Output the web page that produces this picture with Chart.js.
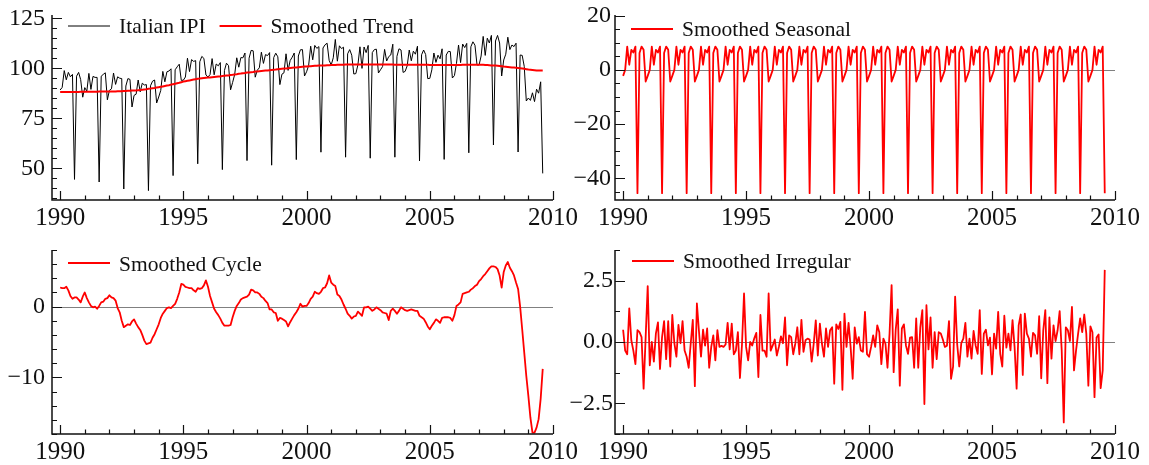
<!DOCTYPE html>
<html>
<head>
<meta charset="utf-8">
<title>Italian IPI decomposition</title>
<script src="https://cdn.jsdelivr.net/npm/chart.js@4.4.1/dist/chart.umd.min.js"></script>
<style>
  html, body { margin: 0; padding: 0; background: #fff; }
  #wrap { position: relative; width: 1149px; height: 465px; overflow: hidden; }
  #wrap canvas { position: absolute; }
</style>
</head>
<body>
<div id="wrap">
  <canvas id="pIpi" width="590" height="232" style="left:0;top:0"></canvas>
  <canvas id="pSeas" width="589" height="232" style="left:560px;top:0"></canvas>
  <canvas id="pCycle" width="590" height="233" style="left:0;top:232px"></canvas>
  <canvas id="pIrr" width="589" height="233" style="left:560px;top:232px"></canvas>
</div>
<script>
// monthly data, Jan 1990 .. Aug 2009
const startYear = 1990;
const yearTicks = [1990, 1995, 2000, 2005, 2010];

const ipi = [
  89.2, 90.5, 98.9, 94.3, 98.0, 95.8, 97.0, 44.5, 96.1, 98.0, 94.4, 85.6,
  90.4, 88.6, 97.5, 89.5, 96.0, 95.5, 95.5, 43.2, 96.1, 97.0, 97.8, 84.3,
  89.0, 89.8, 97.7, 92.0, 95.8, 95.1, 94.9, 39.7, 91.2, 94.9, 94.5, 80.7,
  86.5, 87.1, 94.2, 88.3, 92.6, 91.7, 91.9, 38.9, 91.3, 93.6, 94.2, 82.7,
  85.7, 89.0, 98.5, 93.3, 98.3, 98.7, 99.8, 46.4, 99.3, 100.8, 102.1, 94.0,
  94.1, 95.7, 105.1, 98.4, 104.4, 103.5, 103.9, 52.3, 103.3, 106.0, 105.0, 96.7,
  95.7, 96.9, 104.9, 96.8, 102.2, 101.3, 102.9, 49.4, 98.9, 102.6, 101.4, 89.3,
  93.0, 97.0, 105.3, 100.6, 105.4, 105.3, 107.7, 53.9, 105.1, 109.0, 108.8, 95.6,
  99.1, 100.3, 108.1, 102.5, 106.9, 106.4, 107.9, 51.6, 105.4, 107.6, 105.8, 91.9,
  97.1, 97.8, 107.3, 99.0, 103.9, 105.6, 107.7, 54.4, 106.2, 109.3, 109.4, 96.2,
  98.3, 101.4, 111.1, 104.3, 111.5, 110.0, 110.9, 58.1, 110.2, 111.8, 112.6, 104.0,
  101.7, 105.3, 114.5, 103.6, 111.3, 109.9, 110.6, 55.6, 107.3, 109.4, 106.6, 97.2,
  97.4, 101.8, 110.8, 100.0, 110.7, 107.9, 111.5, 55.1, 107.9, 109.4, 109.6, 97.7,
  99.3, 100.9, 109.5, 103.7, 105.9, 106.7, 112.1, 55.6, 106.0, 109.8, 109.2, 98.0,
  98.5, 101.3, 109.2, 103.8, 108.6, 107.1, 111.1, 53.7, 106.8, 109.2, 106.9, 94.9,
  95.0, 99.3, 107.7, 103.0, 106.6, 104.8, 109.8, 54.5, 106.7, 108.5, 108.4, 95.2,
  96.4, 102.5, 111.7, 102.9, 112.2, 110.4, 112.5, 57.8, 110.8, 113.3, 111.6, 101.7,
  101.7, 106.2, 116.0, 106.5, 115.1, 112.7, 116.5, 61.7, 113.7, 116.5, 112.7, 96.2,
  104.2, 107.1, 115.6, 109.4, 111.7, 110.9, 112.6, 58.2, 106.7, 106.5, 101.0, 83.7,
  85.2, 84.0, 87.8, 83.4, 89.6, 87.6, 93.3, 47.5
];

const trend = [
  88.2, 88.2, 88.2, 88.2, 88.2, 88.2, 88.2, 88.2, 88.2, 88.2, 88.3, 88.3,
  88.3, 88.3, 88.3, 88.3, 88.3, 88.3, 88.3, 88.4, 88.4, 88.4, 88.4, 88.4,
  88.5, 88.5, 88.5, 88.5, 88.6, 88.6, 88.6, 88.7, 88.7, 88.8, 88.8, 88.9,
  88.9, 89.0, 89.1, 89.2, 89.3, 89.5, 89.6, 89.8, 89.9, 90.1, 90.2, 90.4,
  90.6, 90.8, 91.0, 91.2, 91.4, 91.6, 91.9, 92.1, 92.3, 92.6, 92.8, 93.1,
  93.4, 93.6, 93.8, 94.0, 94.2, 94.4, 94.6, 94.8, 94.9, 95.1, 95.2, 95.3,
  95.4, 95.5, 95.6, 95.7, 95.8, 95.9, 96.0, 96.2, 96.3, 96.4, 96.5, 96.7,
  96.8, 97.0, 97.1, 97.3, 97.4, 97.6, 97.7, 97.9, 98.0, 98.1, 98.2, 98.4,
  98.5, 98.6, 98.7, 98.8, 98.9, 99.0, 99.1, 99.2, 99.3, 99.4, 99.6, 99.7,
  99.8, 99.9, 100.0, 100.1, 100.2, 100.3, 100.4, 100.5, 100.6, 100.7, 100.8, 100.9,
  101.0, 101.1, 101.1, 101.2, 101.3, 101.3, 101.4, 101.4, 101.5, 101.5, 101.6, 101.6,
  101.7, 101.7, 101.7, 101.8, 101.8, 101.8, 101.8, 101.9, 101.9, 101.9, 101.9, 101.9,
  101.9, 101.9, 101.9, 101.9, 101.9, 101.9, 101.9, 101.9, 101.9, 101.9, 101.9, 101.9,
  101.9, 101.9, 101.9, 101.9, 101.9, 101.9, 101.9, 101.8, 101.8, 101.8, 101.8, 101.8,
  101.8, 101.8, 101.8, 101.8, 101.8, 101.8, 101.8, 101.8, 101.8, 101.8, 101.8, 101.8,
  101.7, 101.7, 101.7, 101.7, 101.7, 101.7, 101.7, 101.7, 101.7, 101.7, 101.7, 101.7,
  101.7, 101.7, 101.7, 101.7, 101.8, 101.8, 101.8, 101.8, 101.8, 101.8, 101.8, 101.8,
  101.8, 101.8, 101.8, 101.7, 101.7, 101.6, 101.5, 101.5, 101.4, 101.3, 101.2, 101.1,
  100.9, 100.8, 100.7, 100.6, 100.5, 100.4, 100.3, 100.2, 100.1, 100.0, 99.8, 99.6,
  99.4, 99.3, 99.2, 99.1, 99.0, 99.0, 98.9, 98.9
];

const seasonal = [
  -2.2, 0.0, 8.6, 1.9, 7.4, 6.4, 8.6, -45.5, 6.2, 8.6, 7.4, -4.3,
  -2.2, 0.0, 8.6, 1.9, 7.4, 6.4, 8.6, -45.5, 6.2, 8.6, 7.4, -4.3,
  -2.2, 0.0, 8.6, 1.9, 7.4, 6.4, 8.6, -45.5, 6.2, 8.6, 7.4, -4.3,
  -2.2, 0.0, 8.6, 1.9, 7.4, 6.4, 8.6, -45.5, 6.2, 8.6, 7.4, -4.3,
  -2.2, 0.0, 8.6, 1.9, 7.4, 6.4, 8.6, -45.5, 6.2, 8.6, 7.4, -4.3,
  -2.2, 0.0, 8.6, 1.9, 7.4, 6.4, 8.6, -45.5, 6.2, 8.6, 7.4, -4.3,
  -2.2, 0.0, 8.6, 1.9, 7.4, 6.4, 8.6, -45.5, 6.2, 8.6, 7.4, -4.3,
  -2.2, 0.0, 8.6, 1.9, 7.4, 6.4, 8.6, -45.5, 6.2, 8.6, 7.4, -4.3,
  -2.2, 0.0, 8.6, 1.9, 7.4, 6.4, 8.6, -45.5, 6.2, 8.6, 7.4, -4.3,
  -2.2, 0.0, 8.6, 1.9, 7.4, 6.4, 8.6, -45.5, 6.2, 8.6, 7.4, -4.3,
  -2.2, 0.0, 8.6, 1.9, 7.4, 6.4, 8.6, -45.5, 6.2, 8.6, 7.4, -4.3,
  -2.2, 0.0, 8.6, 1.9, 7.4, 6.4, 8.6, -45.5, 6.2, 8.6, 7.4, -4.3,
  -2.2, 0.0, 8.6, 1.9, 7.4, 6.4, 8.6, -45.5, 6.2, 8.6, 7.4, -4.3,
  -2.2, 0.0, 8.6, 1.9, 7.4, 6.4, 8.6, -45.5, 6.2, 8.6, 7.4, -4.3,
  -2.2, 0.0, 8.6, 1.9, 7.4, 6.4, 8.6, -45.5, 6.2, 8.6, 7.4, -4.3,
  -2.2, 0.0, 8.6, 1.9, 7.4, 6.4, 8.6, -45.5, 6.2, 8.6, 7.4, -4.3,
  -2.2, 0.0, 8.6, 1.9, 7.4, 6.4, 8.6, -45.5, 6.2, 8.6, 7.4, -4.3,
  -2.2, 0.0, 8.6, 1.9, 7.4, 6.4, 8.6, -45.5, 6.2, 8.6, 7.4, -4.3,
  -2.2, 0.0, 8.6, 1.9, 7.4, 6.4, 8.6, -45.5, 6.2, 8.6, 7.4, -4.3,
  -2.2, 0.0, 8.6, 1.9, 7.4, 6.4, 8.6, -45.5
];

const cycle = [
  2.7, 2.6, 2.6, 2.8, 2.3, 1.5, 1.1, 1.3, 1.3, 1.0, 0.6, 1.4,
  2.0, 1.2, 0.6, 0.1, -0.1, 0.0, -0.3, 0.1, 0.6, 0.7, 1.1, 1.2,
  1.6, 1.3, 1.2, 0.85, -0.2, -0.8, -2.0, -2.9, -2.7, -2.5, -2.6, -2.1,
  -1.8, -2.4, -2.9, -3.3, -4.0, -4.8, -5.3, -5.2, -5.1, -4.4, -3.9, -3.2,
  -2.5, -1.6, -1.0, -0.6, -0.2, -0.1, -0.2, 0.1, 0.4, 1.1, 2.0, 3.2,
  3.1, 2.8, 2.7, 2.6, 2.6, 2.3, 2.1, 2.6, 2.5, 2.6, 3.0, 3.7,
  2.8, 1.5, 0.6, -0.3, -0.8, -1.2, -1.7, -2.3, -2.7, -2.7, -2.7, -2.6,
  -1.5, -0.6, 0.1, 0.5, 1.0, 1.2, 1.3, 1.4, 1.7, 2.4, 2.3, 2.0,
  2.0, 1.8, 1.4, 1.2, 0.8, 0.5, -0.4, -0.4, -0.8, -0.9, -2.0, -1.6,
  -1.7, -1.9, -2.1, -2.8, -2.2, -1.7, -1.2, -0.8, -0.3, 0.4, 0.0, 0.1,
  0.1, 0.5, 1.1, 1.4, 2.1, 1.9, 1.8, 2.1, 2.6, 2.7, 3.3, 4.4,
  3.4, 3.1, 2.9, 1.7, 1.5, 1.0, 0.3, -0.3, -1.0, -1.3, -1.7, -1.4,
  -1.3, -0.7, -1.0, -1.3, -0.1, -0.1, 0.0, -0.3, -0.6, -0.4, -0.1, -0.3,
  -0.5, -0.8, -0.9, -1.0, -1.9, -0.6, -0.3, -0.6, -1.0, -0.6, -0.1, -0.3,
  -0.5, -0.6, -0.5, -0.4, -0.5, -0.6, -0.6, -1.3, -1.5, -1.7, -2.2, -2.8,
  -3.2, -2.7, -2.3, -1.8, -2.0, -2.3, -1.6, -1.5, -1.5, -1.5, -1.6, -2.0,
  -1.2, 0.1, 0.3, 0.6, 1.8, 1.9, 2.0, 2.1, 2.4, 2.6, 2.9, 3.1,
  3.6, 3.9, 4.3, 4.6, 5.0, 5.4, 5.7, 5.7, 5.6, 5.3, 4.4, 2.7,
  4.9, 5.8, 6.3, 5.5, 5.0, 4.4, 3.4, 2.5, 0.0, -3.2, -6.5, -9.8,
  -12.6, -15.7, -17.8, -17.8, -17.1, -15.9, -13.0, -8.8
];

const irregular = [
  0.5, -0.35, -0.5, 1.37, 0.07, -0.35, -0.9, 0.48, 0.4, 0.2, -1.9, 0.2,
  2.28, -0.95, 0.0, -0.8, 0.35, 0.8, -1.1, 0.2, 0.85, -0.7, 0.85, -1.0,
  1.1, -0.05, -0.6, 0.7, -0.05, 0.85, -0.35, -0.6, -1.05, -0.05, 0.9, -1.8,
  1.57, 0.45, -0.6, 0.5, -0.15, 0.55, -1.05, -0.2, 0.27, -0.75, 0.48, -0.2,
  -0.16, -0.2, -0.1, 0.78, -0.3, 0.75, -0.5, -0.35, 0.4, -1.47, -0.1, 1.98,
  -0.2, -0.75, 0.0, -0.14, 0.15, 0.37, -1.43, 1.1, -0.35, -0.35, -0.6, 1.98,
  -0.35, -0.14, 0.1, -0.55, -0.2, 0.23, -0.05, 1.0, -0.95, 0.27, 0.2, -0.5,
  -0.07, 0.6, -0.5, 0.9, -0.4, 0.07, 0.14, 0.1, -0.8, -0.07, 0.88, -0.55,
  0.75, -0.07, -0.6, 0.55, -0.2, 0.48, 0.6, -1.7, 0.72, 0.53, 0.82, -1.95,
  1.16, -0.2, 0.78, -0.2, -1.5, 0.6, -0.07, 0.2, -0.35, -0.4, 1.23, -0.5,
  -0.6, -0.2, 0.27, -0.2, 0.68, 0.4, -0.9, 0.14, -0.07, -1.05, 0.34, 2.32,
  -1.23, 0.5, 1.33, -1.78, 0.55, 0.72, -0.14, -0.48, 0.18, 0.2, -1.05, 0.96,
  -1.05, 0.6, 1.3, -2.53, 1.5, -0.3, 1.0, -1.05, 0.4, -0.7, 0.4, 0.35,
  0.1, -0.2, -0.15, 0.85, -1.5, -1.0, 1.85, -0.1, -1.0, -0.05, 0.14, 0.78,
  -0.6, 0.14, -0.68, 0.45, -0.14, -0.48, 1.3, -1.3, 0.34, 0.5, -0.14, 0.18,
  -1.32, 0.34, -0.27, 1.23, -0.48, -1.0, 1.07, -0.23, 0.34, -0.34, 0.89, -0.2,
  -1.9, 0.68, 1.12, -1.34, 1.16, 0.34, 0.14, -0.6, 0.37, 0.27, -0.48, 1.05,
  -1.48, 0.48, 1.3, -1.68, 1.0, -0.68, 0.68, 0.04, 0.48, 1.26, -0.34, -3.28,
  0.6, 0.48, 0.04, 1.43, -1.16, -0.34, 0.34, 0.96, 0.4, 1.12, 0.34, -1.78,
  0.64, 0.4, -2.25, 0.18, 0.31, -1.88, -1.16, 2.94
];

const ipiTicks = [50, 75, 100, 125];
const seasTicks = [-40, -20, 0, 20];
const cycleTicks = [-10, 0];
const irrTicks = [-2.5, 0, 2.5];

const FONT = '"Liberation Serif", "Times New Roman", serif';
const RED = '#ff0000';

function pts(arr) {
  return arr.map((v, i) => ({ x: startYear + i / 12, y: v }));
}

function fmt(v, dec) {
  const s = Math.abs(v).toFixed(dec);
  return (v < -1e-9 ? '\u2212' : '') + s;
}

// axes with inward ticks, zero line and an inside legend
const framePlugin = {
  id: 'frame',
  beforeDatasetsDraw(chart, args, opts) {
    if (!opts.zero) return;
    const { ctx, chartArea: a } = chart;
    const y = Math.round(chart.scales.y.getPixelForValue(0)) + 0.5;
    ctx.save();
    ctx.strokeStyle = '#808080';
    ctx.lineWidth = 1;
    ctx.beginPath();
    ctx.moveTo(a.left, y);
    ctx.lineTo(a.right, y);
    ctx.stroke();
    ctx.restore();
  },
  afterDatasetsDraw(chart, args, opts) {
    const { ctx, chartArea: a } = chart;
    const xs = chart.scales.x, ys = chart.scales.y;
    ctx.save();
    ctx.strokeStyle = '#111';
    ctx.lineWidth = 1.5;
    ctx.beginPath();
    ctx.moveTo(a.left, a.top);
    ctx.lineTo(a.left, a.bottom);
    ctx.lineTo(a.right, a.bottom);
    ctx.stroke();

    ctx.lineWidth = 1.2;
    ctx.beginPath();
    for (let yr = Math.ceil(xs.min); yr <= xs.max + 1e-9; yr++) {
      const px = Math.round(xs.getPixelForValue(yr)) + 0.5;
      const len = yearTicks.includes(yr) ? 9 : 4.5;
      ctx.moveTo(px, a.bottom);
      ctx.lineTo(px, a.bottom - len);
    }
    const step = opts.minorY;
    for (let v = Math.ceil(ys.min / step - 1e-9) * step; v <= ys.max + 1e-9; v += step) {
      const py = Math.round(ys.getPixelForValue(v)) + 0.5;
      const major = opts.majorY.some(m => Math.abs(m - v) < 1e-6);
      ctx.moveTo(a.left, py);
      ctx.lineTo(a.left + (major ? 10 : 5), py);
    }
    ctx.stroke();
    ctx.restore();
  },
  afterDraw(chart, args, opts) {
    const { ctx } = chart;
    ctx.save();
    ctx.font = '21.5px ' + FONT;
    ctx.fillStyle = '#111';
    ctx.textBaseline = 'alphabetic';
    let x = opts.legendX;
    chart.data.datasets.forEach(ds => {
      ctx.strokeStyle = ds.borderColor;
      ctx.lineWidth = ds.borderWidth;
      ctx.beginPath();
      ctx.moveTo(x, opts.lineY);
      ctx.lineTo(x + 42, opts.lineY);
      ctx.stroke();
      ctx.fillText(ds.label, x + 51, opts.textY);
      x += 51 + ctx.measureText(ds.label).width + 14;
    });
    ctx.restore();
  }
};

function makePanel(id, geo, yCfg, datasets, frame) {
  const canvas = document.getElementById(id);
  return new Chart(canvas, {
    type: 'line',
    data: { datasets },
    options: {
      responsive: false,
      animation: false,
      events: [],
      layout: { padding: { left: 0, right: canvas.width - geo.right, top: geo.top, bottom: 0 } },
      elements: { point: { radius: 0 }, line: { tension: 0, borderJoinStyle: 'round' } },
      plugins: { legend: { display: false }, tooltip: { enabled: false }, frame },
      scales: {
        x: {
          type: 'linear',
          min: 1989.67,
          max: 2010,
          grid: { display: false, drawTicks: false, tickLength: 0 },
          border: { display: false },
          ticks: {
            autoSkip: false, maxRotation: 0, padding: 3,
            color: '#111', font: { family: FONT, size: 25 },
            callback: v => String(v)
          },
          afterBuildTicks: s => { s.ticks = yearTicks.map(v => ({ value: v })); },
          afterFit: s => { s.height = canvas.height - geo.bottom; s.paddingLeft = 0; s.paddingRight = 0; }
        },
        y: {
          min: yCfg.min,
          max: yCfg.max,
          grid: { display: false, drawTicks: false, tickLength: 0 },
          border: { display: false },
          ticks: {
            padding: yCfg.pad, color: '#111', font: { family: FONT, size: 24 },
            callback: v => fmt(v, yCfg.dec)
          },
          afterBuildTicks: s => { s.ticks = yCfg.ticks.map(v => ({ value: v })); },
          afterFit: s => { s.width = geo.left; s.paddingTop = 0; s.paddingBottom = 0; }
        }
      }
    },
    plugins: [framePlugin]
  });
}

const geoLeft = { left: 52, right: 553 };
const geoRight = { left: 55, right: 555 };

makePanel('pIpi', { ...geoLeft, top: 15, bottom: 200 },
  { min: 34.2, max: 126.7, ticks: ipiTicks, dec: 0, pad: 7 },
  [
    { label: 'Italian IPI', data: pts(ipi), borderColor: '#000', borderWidth: 1, order: 1 },
    { label: 'Smoothed Trend', data: pts(trend), borderColor: RED, borderWidth: 2, order: 0 }
  ],
  { zero: false, minorY: 5, majorY: ipiTicks, legendX: 68, lineY: 26, textY: 33 });

makePanel('pSeas', { ...geoRight, top: 15, bottom: 200 },
  { min: -48, max: 20.25, ticks: seasTicks, dec: 0, pad: 4 },
  [{ label: 'Smoothed Seasonal', data: pts(seasonal), borderColor: RED, borderWidth: 1.8 }],
  { zero: true, minorY: 5, majorY: seasTicks, legendX: 71, lineY: 29, textY: 36 });

makePanel('pCycle', { ...geoLeft, top: 18, bottom: 202 },
  { min: -18, max: 8, ticks: cycleTicks, dec: 0, pad: 7 },
  [{ label: 'Smoothed Cycle', data: pts(cycle), borderColor: RED, borderWidth: 1.8 }],
  { zero: true, minorY: 2, majorY: cycleTicks, legendX: 68, lineY: 31, textY: 39 });

makePanel('pIrr', { ...geoRight, top: 18, bottom: 202 },
  { min: -3.75, max: 3.75, ticks: irrTicks, dec: 1, pad: 2 },
  [{ label: 'Smoothed Irregular', data: pts(irregular), borderColor: RED, borderWidth: 1.8 }],
  { zero: true, minorY: 1.25, majorY: irrTicks, legendX: 72, lineY: 29, textY: 36 });
</script>
</body>
</html>
